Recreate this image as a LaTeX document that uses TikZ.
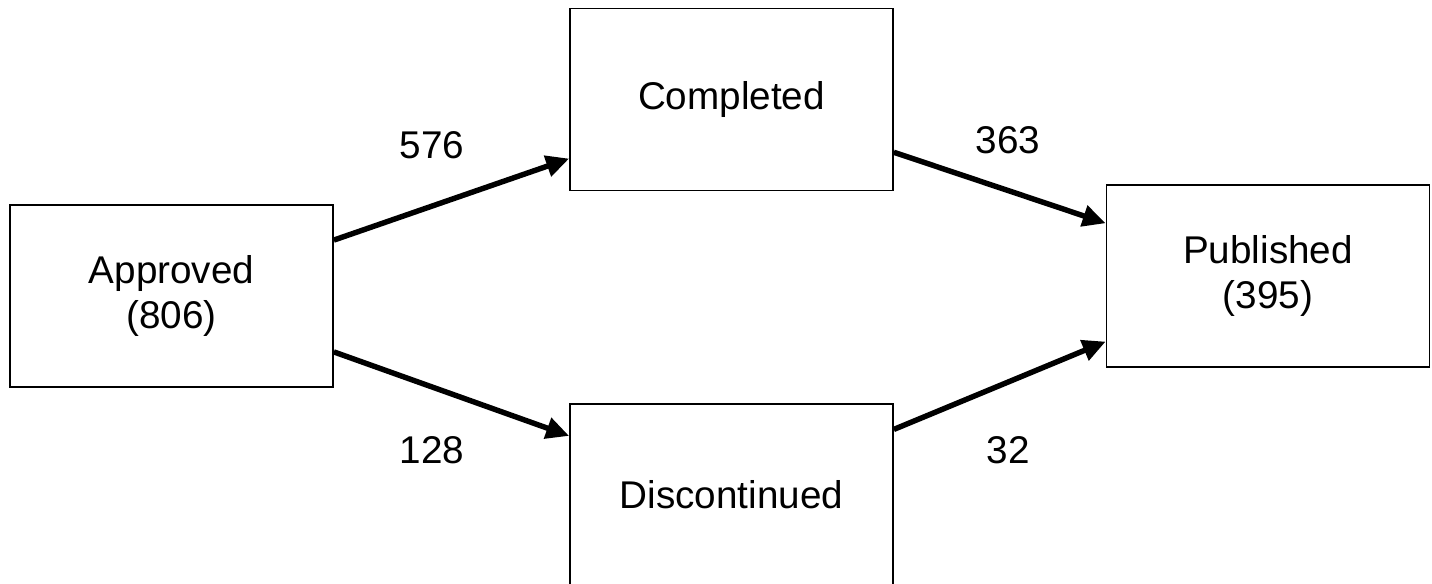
\documentclass[tikz,border=0pt]{standalone}
\usepackage{fontspec}
\setmainfont{Liberation Sans}
\usetikzlibrary{arrows.meta,positioning}
\tikzset{
  sbox/.style={rectangle, draw=black, line width=1pt,
               minimum width=6.46cm, minimum height=3.64cm,
               align=center, font=\fontsize{22}{25.6}\selectfont},
  flow/.style={-{Triangle[length=0.46cm,width=0.42cm]}, line width=3.1pt},
  count/.style={font=\fontsize{22}{25.6}\selectfont},
}
\begin{document}
\begin{tikzpicture}[x=0.02cm, y=-0.02cm]
    \useasboundingbox (0,0) rectangle (1432,584);
    \node[sbox] (appr) at (171.5,296)  {Approved\\(806)};
    \node[sbox] (comp) at (731.5,99.5) {Completed};
    \node[sbox] (disc) at (731.5,495)  {Discontinued};
    \node[sbox] (pub)  at (1268,276)   {Published\\(395)};
    \draw[flow] (appr.19)--(comp.200);
    \draw[flow] (appr.-19)--(disc.160);
    \draw[flow] (comp.-18)--(pub.162);
    \draw[flow] (disc.22)--(pub.202);
    \node[count] (n576) at (432,145) {576};
    \node[count] (n128) at (432,450) {128};
    \node[count] (n363) at (1008,140) {363};
    \node[count] (n32)  at (1008,450) {32};
\end{tikzpicture}
\end{document}
